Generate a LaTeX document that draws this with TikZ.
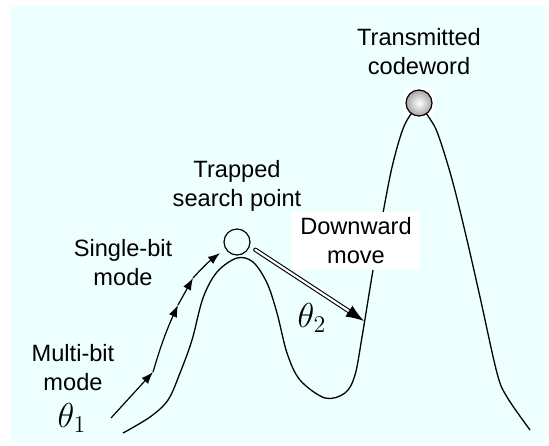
\documentclass[tikz,border=0pt]{standalone}
\usepackage{fontspec}
\setmainfont{Liberation Sans}
\usetikzlibrary{arrows.meta}
\definecolor{bgcyan}{RGB}{238,255,255}
\definecolor{ballgray}{RGB}{165,165,165}
\begin{document}
\begin{tikzpicture}[x=0.5pt,y=-0.5pt,
  lbl/.style={align=center,inner sep=0pt,font=\fontsize{11.8}{14.5}\selectfont},
  mth/.style={inner sep=0pt,font=\fontsize{18.5}{20}\selectfont},
  hill/.style={line width=0.65pt},
  stepar/.style={line width=0.6pt,-{Latex[length=6pt,width=4.4pt]}},
  downar/.style={double,double distance=1.1pt,line width=0.55pt,line cap=round,-{Latex[length=9pt,width=6.5pt]}}]
\useasboundingbox (0,0) rectangle (549,445);
\fill[white] (0,0) rectangle (549,445);
\fill[bgcyan] (11,6) rectangle (545,442);
\fill[white] (404,88) rectangle (434,117);
% landscape
\draw[hill] plot[smooth,tension=0.55] coordinates {
 (123,433) (150,417) (168,400) (180,373) (192,340) (203,298) (217,272)
 (237,258) (253,262) (267,283) (277,313) (287,353) (300,380) (325,398)
 (345,393) (355,375) (362,337) (373,270) (383,213) (393,163) (405,124)
 (419,108) (432,122) (440,140) (453,183) (467,240) (480,297) (497,373)
 (507,397) (530,430)};
% nodes
\node[draw,circle,minimum size=13pt,inner sep=0pt,line width=0.6pt] (trap) at (237,242) {};
\node[draw,circle,minimum size=13pt,inner sep=0pt,line width=0.6pt,inner color=white,outer color=ballgray] (code) at (419,103) {};
\node[lbl] (tcw) at (419,52) {Transmitted\\codeword};
\node[lbl] (tsp) at (237,186) {Trapped\\search point};
\node[lbl] (sbm) at (123,263) {Single-bit\\mode};
\node[lbl] (mbm) at (73,368) {Multi-bit\\mode};
\node[lbl,fill=white,minimum width=64pt,minimum height=29pt] (dwm) at (356,241) {Downward\\move};
\node[mth] (th1) at (72,418) {$\theta_1$};
\node[mth] (th2) at (312,318) {$\theta_2$};
% path of the search
\coordinate (p0) at (111,418);
\coordinate (p1) at (153,372);
\coordinate (p2) at (178,305);
\coordinate (p3) at (193,278);
\coordinate (p4) at (220,253);
\coordinate (land) at (364,321);
\draw[stepar] (p0) -- (p1);
\draw[stepar] (p1) to[bend left=4] (p2);
\draw[stepar] (p2) -- (p3);
\draw[stepar] (p3) to[bend left=5] (p4);
\draw[downar] (trap.-25) ++(6,2) -- (land);
\end{tikzpicture}
\end{document}
